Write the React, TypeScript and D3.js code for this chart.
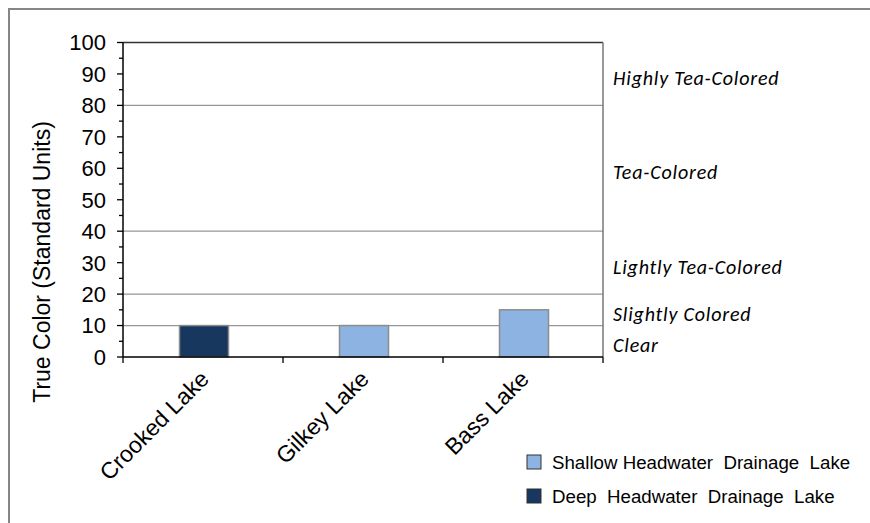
import React from "react";
import * as d3 from "d3";

const lakes = ["Crooked Lake", "Gilkey Lake", "Bass Lake"];
const values = [10, 10, 15];
const lakeTypes = ["Deep", "Shallow", "Shallow"];
const yTicks = [0, 10, 20, 30, 40, 50, 60, 70, 80, 90, 100];
const gridValues = [10, 20, 40, 80];
const zoneLabels = ["Clear", "Slightly Colored", "Lightly Tea-Colored", "Tea-Colored", "Highly Tea-Colored"];
const zoneMids = [5, 15, 30, 60, 90];
const legendItems = ["Shallow Headwater  Drainage  Lake", "Deep  Headwater  Drainage  Lake"];
const legendKeys = ["Shallow", "Deep"];

const W = 870;
const H = 523;
const left = 123;
const right = 603;
const top = 42.5;
const bottom = 357;

export default function App() {
  const x = d3.scaleBand<string>().domain(lakes).range([left, right]).paddingInner(0).paddingOuter(0);
  const y = d3.scaleLinear().domain([0, 100]).range([bottom, top]);
  const color = d3.scaleOrdinal<string, string>().domain(["Shallow", "Deep"]).range(["#8db3e2", "#17375e"]);
  const minor = d3.range(5, 100, 10);
  const barW = 49;
  const font = "Arial, 'Liberation Sans', sans-serif";
  return (
    <svg width={W} height={H} style={{ position: "absolute", left: 0, top: 0, background: "#fff" }}>
      <rect x={9} y={9} width={W + 10} height={H + 10} fill="#fff" stroke="#868686" strokeWidth={2} />
      {gridValues.map((g) => (
        <line key={g} x1={left} x2={right} y1={y(g)} y2={y(g)} stroke="#969696" strokeWidth={1.3} />
      ))}
      <line x1={left} x2={right} y1={y(100)} y2={y(100)} stroke="#333" strokeWidth={1.5} />
      <line x1={right} x2={right} y1={y(100)} y2={bottom} stroke="#777" strokeWidth={1.5} />
      {lakes.map((l, i) => (
        <rect
          key={l}
          x={(x(l) as number) + x.bandwidth() / 2 - barW / 2 + 1}
          y={y(values[i])}
          width={barW}
          height={bottom - y(values[i])}
          fill={color(lakeTypes[i])}
          stroke="#8c8c8c"
          strokeWidth={1.5}
        />
      ))}
      <line x1={left} x2={left} y1={y(100)} y2={bottom} stroke="#000" strokeWidth={1.5} />
      <line x1={left} x2={right} y1={bottom} y2={bottom} stroke="#000" strokeWidth={1.5} />
      {yTicks.map((t) => (
        <g key={t}>
          <line x1={left - 6} x2={left} y1={y(t)} y2={y(t)} stroke="#000" strokeWidth={1.3} />
          <text x={106} y={y(t)} dy="0.36em" textAnchor="end" fontFamily={font} fontSize={22} fill="#000">
            {t}
          </text>
        </g>
      ))}
      {minor.map((t) => (
        <line key={t} x1={left - 4} x2={left} y1={y(t)} y2={y(t)} stroke="#000" strokeWidth={1.3} />
      ))}
      {[...lakes.map((l) => x(l) as number), right].map((px, i) => (
        <line key={i} x1={px} x2={px} y1={bottom} y2={bottom + 6} stroke="#000" strokeWidth={1.3} />
      ))}
      {lakes.map((l) => {
        const cx = (x(l) as number) + x.bandwidth() / 2;
        return (
          <text
            key={l}
            transform={`translate(${cx - 4},${bottom + 12}) rotate(-45)`}
            textAnchor="end"
            dy="0.7em"
            fontFamily={font}
            fontSize={23}
            fill="#000"
          >
            {l}
          </text>
        );
      })}
      <text
        transform={`translate(42,${262}) rotate(-90)`}
        textAnchor="middle"
        dy="0.35em"
        fontFamily={font}
        fontSize={23}
        fill="#000"
      >
        True Color (Standard Units)
      </text>
      {zoneLabels.map((z, i) => (
        <text
          key={z}
          x={613}
          y={y(zoneMids[i]) + 4}
          dy="0.35em"
          fontFamily="Carlito, Lato, sans-serif"
          fontStyle="italic"
          fontSize={20}
          letterSpacing={0.8}
          fill="#000"
        >
          {z}
        </text>
      ))}
      {legendItems.map((item, i) => (
        <g key={item}>
          <rect x={527} y={455 + i * 34} width={14} height={14} fill={color(legendKeys[i])} stroke="#333" strokeWidth={1} />
          <text
            x={552}
            y={462 + i * 34}
            dy="0.36em"
            fontFamily={font}
            fontSize={18.7}
            fill="#000"
            style={{ whiteSpace: "pre" }}
          >
            {item}
          </text>
        </g>
      ))}
    </svg>
  );
}
